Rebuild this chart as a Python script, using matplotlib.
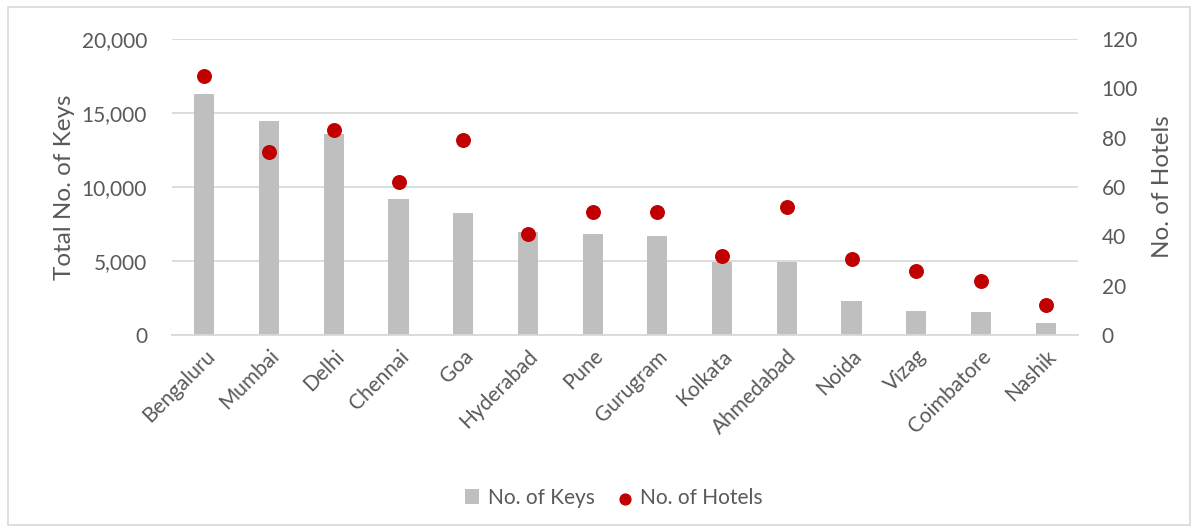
import numpy as np
import matplotlib.pyplot as plt
from matplotlib.patches import Rectangle
from matplotlib.ticker import FuncFormatter

# -----------------------------
# Data
# -----------------------------
cities = ["Bengaluru", "Mumbai", "Delhi", "Chennai", "Goa", "Hyderabad", "Pune",
          "Gurugram", "Kolkata", "Ahmedabad", "Noida", "Vizag", "Coimbatore", "Nashik"]
keys = [16300, 14450, 13600, 9200, 8250, 6970, 6830, 6670, 4920, 4920, 2330, 1650, 1560, 840]
hotels = [105, 74, 83, 62, 79, 41, 50, 50, 32, 52, 31, 26, 22, 12]

plt.rcParams['font.family'] = ['Lato', 'DejaVu Sans']
txt = "#595959"
grid = "#d9d9d9"

fig = plt.figure(figsize=(11.98, 5.31), dpi=100)
ax = fig.add_axes([172/1198, 1 - 335/531, (1078-172)/1198, (335-39)/531])
ax2 = ax.twinx()

x = np.arange(len(cities))
ax.bar(x, keys, width=0.31, color="#bfbfbf", label="No. of Keys", zorder=2)
ax2.scatter(x, hotels, s=95, color="#c00000", label="No. of Hotels", zorder=3)

ax.set_xlim(-0.5, len(cities) - 0.5)
ax.set_ylim(0, 20000)
ax2.set_ylim(0, 120)
ax.set_yticks(np.arange(0, 20001, 5000))
ax2.set_yticks(np.arange(0, 121, 20))
ax.yaxis.set_major_formatter(FuncFormatter(lambda v, p: f"{int(v):,}"))

ax.grid(axis="y", color=grid, linewidth=1.3, zorder=0)
ax.set_axisbelow(True)
for a in (ax, ax2):
    for s in a.spines.values():
        s.set_visible(False)
    a.tick_params(length=0, colors=txt, labelsize=15)
ax.spines["bottom"].set_visible(True)
ax.spines["bottom"].set_color(grid)
ax.spines["bottom"].set_linewidth(1.3)

ax.tick_params(axis="y", pad=18)
ax2.tick_params(axis="y", pad=17)
ax.set_xticks(x)
ax.set_xticklabels(cities, rotation=45, ha="right", rotation_mode="anchor")
ax.tick_params(axis="x", pad=8)

ax.set_ylabel("Total No. of Keys", fontsize=17.5, color=txt, labelpad=5)
ax2.set_ylabel("No. of Hotels", fontsize=17.5, color=txt, labelpad=10)

h1, l1 = ax.get_legend_handles_labels()
h2, l2 = ax2.get_legend_handles_labels()
fig.legend(h1 + h2, l1 + l2, loc="center", bbox_to_anchor=(614/1198, 1 - 498/531),
           ncol=2, frameon=False, fontsize=15, labelcolor=txt, markerscale=0.8,
           handlelength=0.7, handleheight=0.7, handletextpad=0.4, columnspacing=1.1)

fig.patches.append(Rectangle((8/1198, 6/531), 1182/1198, 518/531, transform=fig.transFigure,
                             fill=False, edgecolor=grid, linewidth=1.2))

fig.savefig("out.png", dpi=100)
